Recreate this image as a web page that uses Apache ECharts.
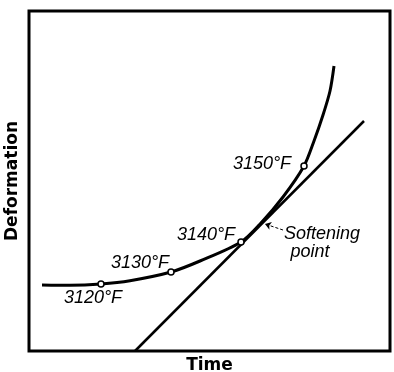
<!DOCTYPE html>
<html><head><meta charset="utf-8">
<script src="https://cdn.jsdelivr.net/npm/echarts@6/dist/echarts.min.js"></script>
<style>html,body{margin:0;padding:0;background:#fff}#c{width:394px;height:372px}</style>
</head><body><div id="c"></div>
<script>
// Deformation vs time curve (arbitrary units)
const curveTime = [13, 41, 72, 101, 142, 171, 212, 232, 254, 275, 285, 294, 301, 305];
const curveDeform = [66, 65.7, 67, 70.3, 79, 90, 109, 128, 154, 185, 210, 236, 260, 285];
// Temperature marks on curve
const markTime = [72, 142, 212, 275];
const markDeform = [67, 79, 109, 185];
const markLabels = ['3120°F', '3130°F', '3140°F', '3150°F'];
// Tangent line end points
const tangentTime = [106, 335];
const tangentDeform = [0, 230];
// Softening point
const softTime = [232];
const softDeform = [128];

const labelOffsets = [[-8, 14], [-31, -9], [-35, -7], [-42, -2]];
const font = 'Liberation Sans';

const chart = echarts.init(document.getElementById('c'));
chart.setOption({
  animation: false,
  backgroundColor: '#fff',
  grid: { left: 29, right: 4, top: 11, bottom: 21, show: true, borderColor: '#000', borderWidth: 3, containLabel: false, outerBoundsMode: 'none' },
  xAxis: {
    type: 'value', min: 0, max: 361,
    name: 'Time', nameLocation: 'middle', nameGap: 6,
    nameTextStyle: { fontFamily: 'DejaVu Sans', fontWeight: 'bold', fontSize: 17, color: '#000' },
    axisLine: { show: false }, axisTick: { show: false }, axisLabel: { show: false }, splitLine: { show: false }
  },
  yAxis: {
    type: 'value', min: 0, max: 340,
    name: 'Deformation', nameLocation: 'middle', nameGap: 8,
    nameTextStyle: { fontFamily: 'DejaVu Sans', fontWeight: 'bold', fontSize: 17, color: '#000' },
    axisLine: { show: false }, axisTick: { show: false }, axisLabel: { show: false }, splitLine: { show: false }
  },
  series: [
    {
      type: 'line', smooth: 0.3, showSymbol: false,
      data: curveTime.map((t, i) => [t, curveDeform[i]]),
      lineStyle: { color: '#000', width: 3 }, z: 2
    },
    {
      type: 'line', showSymbol: false,
      data: tangentTime.map((t, i) => [t, tangentDeform[i]]),
      lineStyle: { color: '#000', width: 2.5 }, z: 2
    },
    {
      type: 'scatter', symbol: 'circle', symbolSize: 6,
      itemStyle: { color: '#fff', borderColor: '#000', borderWidth: 1.5, opacity: 1 },
      data: markTime.map((t, i) => ({
        value: [t, markDeform[i]],
        label: {
          show: true, formatter: markLabels[i], position: 'inside', offset: labelOffsets[i],
          fontFamily: font, fontStyle: 'italic', fontSize: 18, color: '#000'
        }
      })),
      z: 5
    },
    {
      type: 'scatter', symbol: 'rect', symbolSize: [2, 8], symbolRotate: -45,
      itemStyle: { color: '#000', opacity: 1 },
      data: softTime.map((t, i) => ({
        value: [t, softDeform[i]],
        label: {
          show: true, position: 'inside', offset: [61, 20], align: 'center',
          formatter: '{a|Softening}\n{b|point}',
          rich: {
            a: { fontFamily: font, fontStyle: 'italic', fontSize: 18, color: '#000', lineHeight: 18 },
            b: { fontFamily: font, fontStyle: 'italic', fontSize: 18, color: '#000', lineHeight: 18, padding: [0, 24, 0, 0] }
          }
        }
      })),
      markLine: {
        silent: true, symbol: ['none', 'arrow'], symbolSize: 6,
        lineStyle: { color: '#000', type: [3, 2], width: 1 },
        label: { show: false },
        data: [[{ coord: [softTime[0] + 22, softDeform[0] - 7] }, { coord: [softTime[0] + 4, softDeform[0] - 1] }]]
      },
      z: 6
    }
  ]
});
</script></body></html>
